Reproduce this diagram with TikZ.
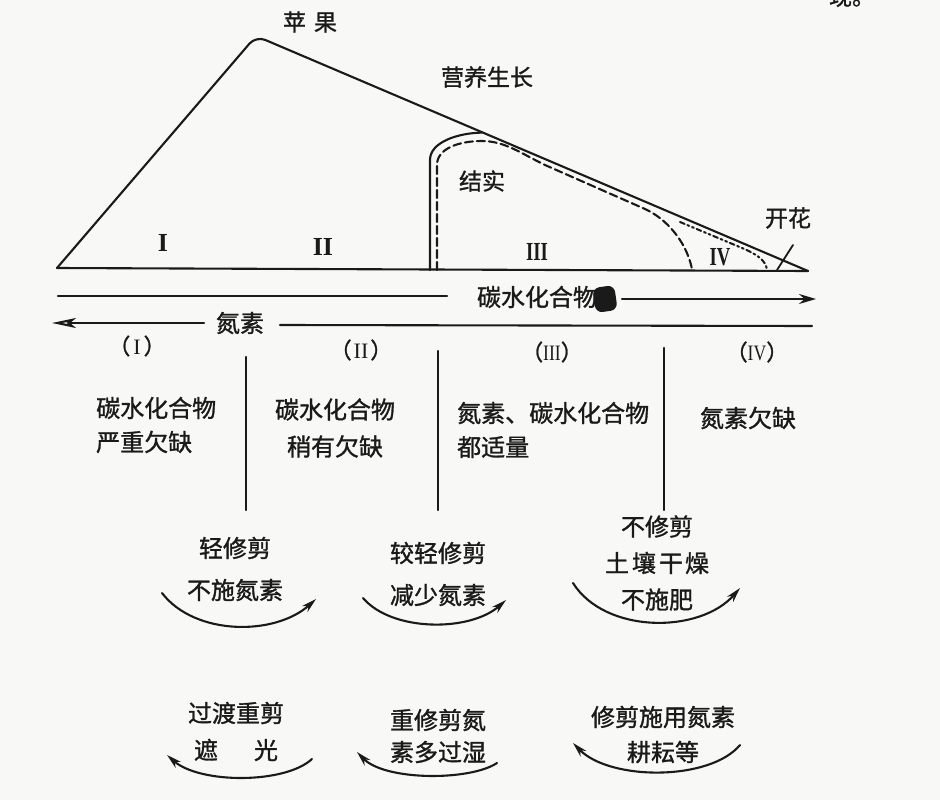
\documentclass[tikz,border=0pt]{standalone}
\usepackage{fontspec}
\newfontfamily\cjk[FakeBold=1.2]{Noto Sans CJK SC}
\newfontfamily\rmn{Liberation Serif}
\usetikzlibrary{arrows.meta}
\definecolor{ink}{HTML}{1A1A1A}
\definecolor{bg}{HTML}{F8F8F6}
\begin{document}
\begin{tikzpicture}[x=1pt,y=-1pt,
  ln/.style={line width=2.1pt, draw=ink, line cap=round, line join=round},
  ls/.style={font=\cjk\fontsize{24}{#1}\selectfont},
  txt/.style={inner sep=0pt, text=ink, ls=34},
  ttl/.style={inner sep=0pt, text=ink, font=\cjk\fontsize{23}{28}\selectfont},
  rom/.style={inner sep=0pt, text=ink, font=\rmn\bfseries\fontsize{26}{30}\selectfont},
  par/.style={inner sep=0pt, text=ink, font=\cjk\fontsize{22}{26}\selectfont},
  arcr/.style={ln, -{Stealth[length=15pt,width=8pt]}},
]
\useasboundingbox[fill=bg] (0,0) rectangle (940,800);

% fragment of page text at top right
\node[ttl, anchor=center] (frag) at (852,-3) {现。};

% ---------- main outline ----------
\coordinate (L) at (57,268);
\coordinate (A) at (256,36);
\coordinate (R) at (808,271);
\draw[ln, rounded corners=10pt] (L) -- (A) -- (R);
\draw[ln] (L) -- (R);

% fruiting (solid)
\coordinate (f0) at (430,270);
\coordinate (f1) at (482,132.6);
\draw[ln] (f0) -- (430,160) .. controls (430,142) and (458,133) .. (f1);

% fruiting (dashed)
\coordinate (d0) at (437,270);
\coordinate (d1) at (692,269);
\draw[ln, dash pattern=on 8pt off 4pt] (d0) -- (437,165)
  .. controls (437,148) and (460,141) .. (482,141)
  .. controls (505,141) and (522,154) .. (545,165)
  -- (645,209) .. controls (665,218) and (686,240) .. (d1);

% flowering (dash-dot)
\coordinate (k0) at (680,222);
\coordinate (k1) at (767,270);
\draw[ln, line width=2pt, dash pattern=on 5pt off 3pt on 2pt off 3pt on 2pt off 3pt]
  (k0) -- (742,248) .. controls (756,254) and (766,260) .. (k1);

% labels in the top diagram
\node[ttl] (apple) at (310,22) {苹\hspace{8pt}果};
\node[ttl] (veg) at (487,77) {营养生长};
\node[ttl] (fruit) at (482,181) {结实};
\node[ttl] (flower) at (788,218) {开花};
\coordinate (fq) at (793,245);
\coordinate (fp) at (777,270);
\draw[ln, line width=1.8pt] (fq) -- (fp);

\node[rom] (r1) at (163,243) {I};
\node[rom] (r2) at (323,247) {II};
\node[rom] (r3) at (537,252) {\scalebox{0.72}[1]{III}};
\node[rom] (r4) at (720,257) {\scalebox{0.72}[1]{IV}};

% ---------- carbohydrate arrow ----------
\coordinate (c0) at (58,296);
\coordinate (c1) at (447,296);
\node[txt] (carb) at (537,297) {碳水化合物};
\node[fill=ink, minimum width=22pt, minimum height=25pt, rounded corners=7pt, inner sep=0pt, rotate=8] (blob) at (605,299) {};
\coordinate (c2) at (622,299);
\coordinate (c3) at (816,299);
\draw[ln] (c0) -- (c1);
\draw[ln, -{Stealth[length=17pt,width=10pt]}] (c2) -- (c3);

% ---------- nitrogen arrow ----------
\node[txt] (nit) at (240,323) {氮素};
\coordinate (n0) at (52,323);
\coordinate (n1) at (204,323);
\coordinate (n2) at (280,325);
\coordinate (n3) at (812,326);
\draw[ln, {Stealth[length=24pt,width=10pt,inset=6pt,open]}-] (n0) -- (n1);
\draw[ln] (n2) -- (n3);

% ---------- phase labels ----------
\node[par] (p1) at (137,346) {（\hspace{3pt}{\rmn I}\hspace{3pt}）};
\node[par] (p2) at (361,350) {（\hspace{2pt}{\rmn II}\hspace{2pt}）};
\node[par] (p3) at (552,352) {（{\rmn\scalebox{0.8}[1]{III}}）};
\node[par] (p4) at (757,352) {（{\rmn\scalebox{0.8}[1]{IV}}）};

% ---------- column separators ----------
\coordinate (v1t) at (246,357); \coordinate (v1b) at (246,510);
\coordinate (v2t) at (438,351); \coordinate (v2b) at (438,510);
\coordinate (v3t) at (664,348); \coordinate (v3b) at (664,510);
\draw[ln] (v1t) -- (v1b);
\draw[ln] (v2t) -- (v2b);
\draw[ln] (v3t) -- (v3b);

% ---------- column texts ----------
\node[txt, align=left, anchor=west] (s1) at (96,425) {碳水化合物\\严重欠缺};
\node[txt, ls=37, align=center] (s2) at (335,428) {碳水化合物\\稍有欠缺};
\node[txt, align=left, anchor=west] (s3) at (457,430) {氮素、碳水化合物\\都适量};
\node[txt] (s4) at (748,418) {氮素欠缺};

% ---------- measures (upper row) ----------
\node[txt, ls=42, align=center] (t1) at (235,569) {轻修剪\\不施氮素};
\node[txt, ls=42, align=center] (t2) at (438,574) {较轻修剪\\减少氮素};
\node[txt, ls=36.5, align=center] (t3) at (657,563) {不修剪\\土\hspace{3pt}壤\hspace{3pt}干\hspace{2pt}燥\\不施肥};

\coordinate (a1s) at (162,593); \coordinate (a1e) at (316,599);
\coordinate (a2s) at (363,598); \coordinate (a2e) at (506,600);
\coordinate (a3s) at (573,583); \coordinate (a3e) at (740,588);
\draw[arcr] (a1s) .. controls (195,636) and (275,636) .. (a1e);
\draw[arcr] (a2s) .. controls (392,632) and (470,632) .. (a2e);
\draw[arcr] (a3s) .. controls (605,634) and (700,634) .. (a3e);

% ---------- measures (lower row) ----------
\node[txt, ls=37, align=center] (t4) at (236,731.5) {过渡重剪\\遮\hspace{36pt}光};
\node[txt, ls=32, align=center] (t5) at (438,736) {重修剪氮\\素多过湿};
\node[txt, ls=35, align=center] (t6) at (663,734.5) {修剪施用氮素\\耕耘等};

\coordinate (b1s) at (312,759); \coordinate (b1e) at (167,755);
\coordinate (b2s) at (497,763); \coordinate (b2e) at (357,752);
\coordinate (b3s) at (740,745); \coordinate (b3e) at (573,743);
\draw[arcr] (b1s) .. controls (285,784) and (200,784) .. (b1e);
\draw[arcr] (b2s) .. controls (470,781) and (385,781) .. (b2e);
\draw[arcr] (b3s) .. controls (710,781) and (610,781) .. (b3e);
\end{tikzpicture}
\end{document}
